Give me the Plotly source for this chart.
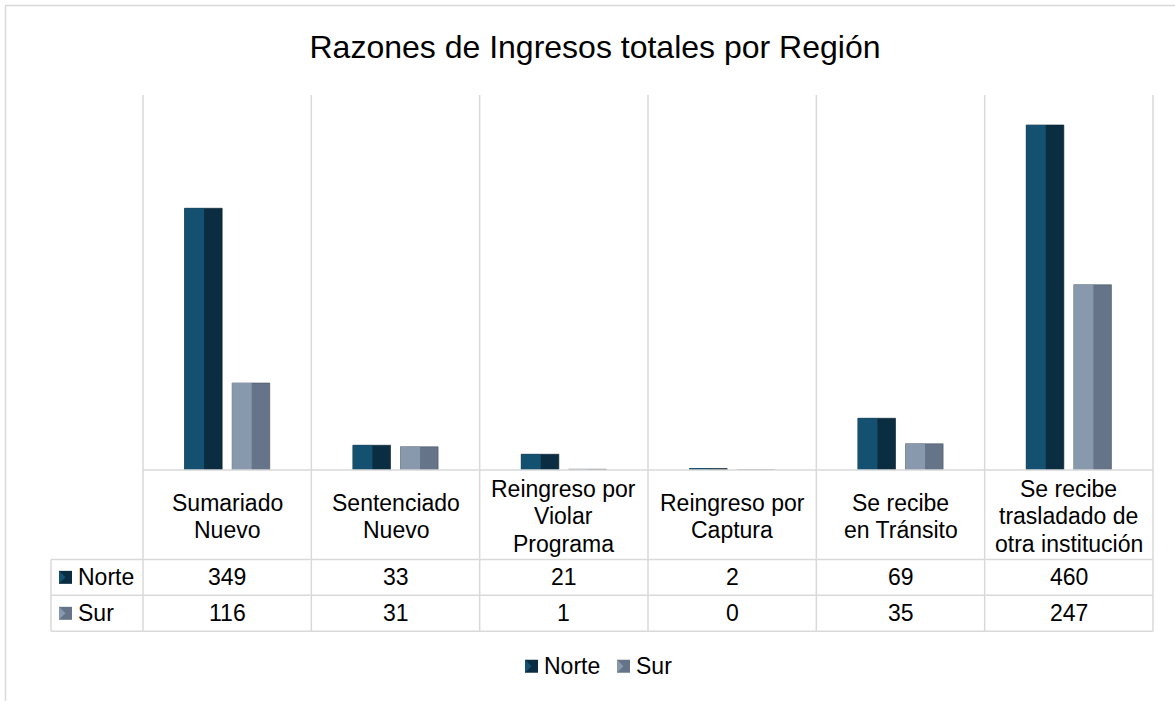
import plotly.graph_objects as go

# ---------------- data ----------------
categories = [
    "Sumariado<br>Nuevo",
    "Sentenciado<br>Nuevo",
    "Reingreso por<br>Violar<br>Programa",
    "Reingreso por<br>Captura",
    "Se recibe<br>en Tránsito",
    "Se recibe<br>trasladado de<br>otra institución",
]
series_names = ["Norte", "Sur"]
norte = [349, 33, 21, 2, 69, 460]
sur = [116, 31, 1, 0, 35, 247]
title_text = "Razones de Ingresos totales por Región"

# ---------------- geometry / style ----------------
W, H = 1175, 701
L, R, T, B = 143, 1153, 95, 470.5
FONT = "Liberation Sans, Arial, sans-serif"
GRID = "#D9D9D9"

def px_x(px):
    return (px - L) / (R - L)

def px_y(py):
    return (B - py) / (B - T)

colors = {
    "Norte": ("#145070", "#0A2D42", "#051C2A"),
    "Sur": ("#8898AD", "#657488", "#4A5563"),
}

bar_w = 0.2234
gap = 0.0594
offsets = {"Norte": -gap / 2 - bar_w, "Sur": gap / 2}
values = {"Norte": norte, "Sur": sur}

fig = go.Figure()
idx = list(range(len(categories)))
for name in series_names:
    light, dark, edge = colors[name]
    off = offsets[name]
    fig.add_trace(go.Bar(
        x=idx, y=values[name], name=name, width=bar_w, offset=off,
        marker=dict(color=dark, line=dict(color=edge, width=0.6)),
        showlegend=False, legendgroup=name, hoverinfo="x+y",
    ))
    fig.add_trace(go.Bar(
        x=idx, y=values[name], name=name, width=bar_w * 0.52, offset=off,
        marker=dict(color=light, line=dict(width=0)),
        showlegend=False, legendgroup=name, hoverinfo="skip",
    ))

shapes = []
line = dict(color=GRID, width=1.5)
# outer chart border
shapes.append(dict(type="rect", xref="paper", yref="paper",
                   x0=px_x(5.5), x1=px_x(1300), y0=px_y(5.5), y1=px_y(800),
                   line=line, fillcolor="rgba(0,0,0,0)", layer="below"))
n = len(categories)
colw = (R - L) / n
row_lines = [560, 596, 632]
for i in range(n + 1):
    xx = L + i * colw
    shapes.append(dict(type="line", xref="paper", yref="paper",
                       x0=px_x(xx), x1=px_x(xx), y0=px_y(T), y1=px_y(632), line=line, layer="below"))
shapes.append(dict(type="line", xref="paper", yref="paper",
                   x0=px_x(L), x1=px_x(R), y0=px_y(B), y1=px_y(B), line=line))
for yy in row_lines:
    shapes.append(dict(type="line", xref="paper", yref="paper",
                       x0=px_x(51), x1=px_x(R), y0=px_y(yy), y1=px_y(yy), line=line))
shapes.append(dict(type="line", xref="paper", yref="paper",
                   x0=px_x(51), x1=px_x(51), y0=px_y(560), y1=px_y(632), line=line))

annotations = []
tfont = dict(family=FONT, size=23, color="#000000")
# header labels
for i, cat in enumerate(categories):
    lines = cat.split("<br>")
    k = len(lines)
    for j, ln in enumerate(lines):
        yy = 517 + (j - (k - 1) / 2) * 27.4
        annotations.append(dict(x=i, xref="x", y=px_y(yy), yref="paper", text=ln,
                                showarrow=False, font=tfont, xanchor="center", yanchor="middle"))

def marker(x0, yc, name):
    light, dark, edge = colors[name]
    shapes.append(dict(type="rect", xref="paper", yref="paper",
                       x0=px_x(x0), x1=px_x(x0 + 13), y0=px_y(yc - 6.5), y1=px_y(yc + 6.5),
                       fillcolor=dark, line=dict(width=0)))
    shapes.append(dict(type="path", xref="paper", yref="paper",
                       path="M {},{} L {},{} L {},{} Z".format(
                           px_x(x0), px_y(yc - 6.5), px_x(x0 + 6.5), px_y(yc),
                           px_x(x0), px_y(yc + 6.5)),
                       fillcolor=light, line=dict(width=0)))

# data rows
row_centers = {"Norte": 578, "Sur": 614}
for name in series_names:
    yc = row_centers[name]
    for i, v in enumerate(values[name]):
        annotations.append(dict(x=i, xref="x", y=px_y(yc), yref="paper", text=str(v),
                                showarrow=False, font=tfont, xanchor="center", yanchor="middle"))
    marker(59, yc, name)
    annotations.append(dict(x=px_x(76), xref="paper", y=px_y(yc), yref="paper", text=name,
                            showarrow=False, font=tfont, xanchor="left", yanchor="middle"))

# bottom legend
leg_y = 667
leg_pos = {"Norte": (525, 542), "Sur": (617, 634)}
for name in series_names:
    mx, tx = leg_pos[name]
    marker(mx, leg_y, name)
    annotations.append(dict(x=px_x(tx), xref="paper", y=px_y(leg_y), yref="paper", text=name,
                            showarrow=False, font=tfont, xanchor="left", yanchor="middle"))

fig.update_layout(
    width=W, height=H,
    margin=dict(l=L, r=W - R, t=T, b=H - B),
    paper_bgcolor="white", plot_bgcolor="white",
    barmode="overlay",
    title=dict(text=title_text, font=dict(family=FONT, size=32, color="#000000"),
               x=595 / W, xref="container", xanchor="center",
               y=1 - 47 / H, yref="container", yanchor="middle"),
    xaxis=dict(range=[-0.5, n - 0.5], showticklabels=False, showgrid=False,
               zeroline=False, showline=False, ticks=""),
    yaxis=dict(range=[0, 500], visible=False, showgrid=False, zeroline=False),
    shapes=shapes, annotations=annotations,
    showlegend=False,
)

fig.write_html("out.html", config={"displayModeBar": False},
               post_script="document.body.style.margin='0';")
